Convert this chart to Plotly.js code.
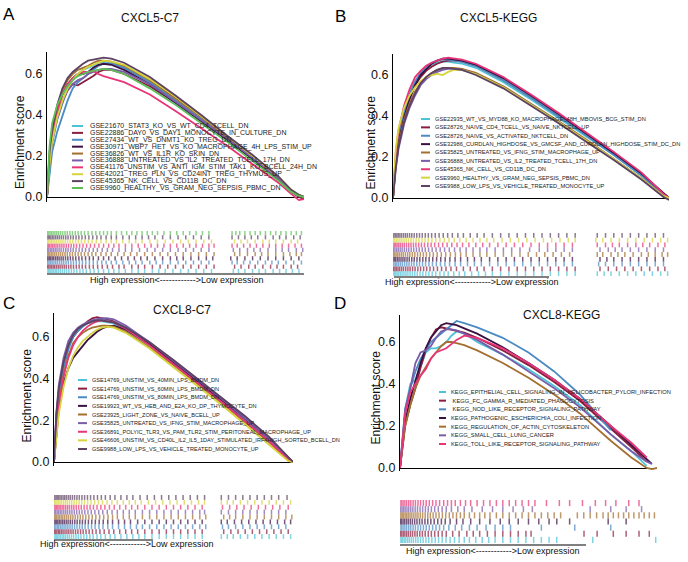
<!DOCTYPE html>
<html><head><meta charset="utf-8">
<script src="https://cdn.plot.ly/plotly-3.0.1.min.js"></script>
<style>html,body{margin:0;padding:0;background:#fff}#chart{width:688px;height:562px}</style>
</head><body><div id="chart"></div>
<script>
// ---------- DATA ----------
const CY='#4EC3D8', DR='#8B1E3F', SB='#4B8BC4', DP='#3A1142', BR='#A46F2F', PU='#7A5CA8', PK='#E83577', YE='#D6D43C', MV='#5D4262', GR='#5DBF58';

const rankPct  = [0,1,2,4,6,8,10,12,14,16,18,20,22,25,30,40,50,60,70,80,90,95,98,100];
const rankPctD = [0,1,2,4,6,8,10,12,14,16,18,20,22,25,30,40,50,60,70,82,90,96,98,100];

// Panel A: CXCL5-C7
const namesA = ['GSE21670_STAT3_KO_VS_WT_CD4_TCELL_DN','GSE22886_DAY0_VS_DAY1_MONOCYTE_IN_CULTURE_DN','GSE27434_WT_VS_DNMT1_KO_TREG_DN','GSE30971_WBP7_HET_VS_KO_MACROPHAGE_4H_LPS_STIM_UP','GSE36826_WT_VS_IL1R_KO_SKIN_DN','GSE36888_UNTREATED_VS_IL2_TREATED_TCELL_17H_DN','GSE41176_UNSTIM_VS_ANTI_IGM_STIM_TAK1_KO_BCELL_24H_DN','GSE42021_TREG_PLN_VS_CD24INT_TREG_THYMUS_UP','GSE45365_NK_CELL_VS_CD11B_DC_DN','GSE9960_HEALTHY_VS_GRAM_NEG_SEPSIS_PBMC_DN'];
const colorsA = [CY,DR,SB,DP,BR,PU,PK,YE,MV,GR];
const esA = [
 [0,0.15,0.26,0.38,0.46,0.53,0.57,0.60,0.62,0.63,0.64,0.655,0.66,0.655,0.635,0.565,0.475,0.385,0.29,0.195,0.095,0.035,0.012,0],
 [0,0.18,0.28,0.40,0.47,0.52,0.55,0.545,0.56,0.575,0.59,0.61,0.62,0.62,0.60,0.54,0.46,0.37,0.28,0.185,0.09,0.025,0.0,-0.01],
 [0,0.12,0.22,0.32,0.40,0.47,0.53,0.56,0.58,0.60,0.62,0.64,0.65,0.65,0.63,0.56,0.47,0.38,0.285,0.19,0.09,0.03,0.008,0],
 [0,0.20,0.30,0.42,0.50,0.55,0.58,0.60,0.60,0.61,0.63,0.645,0.65,0.645,0.62,0.55,0.46,0.37,0.28,0.185,0.085,0.028,0.005,0],
 [0,0.20,0.30,0.43,0.52,0.57,0.60,0.62,0.63,0.64,0.655,0.665,0.665,0.66,0.64,0.57,0.48,0.39,0.29,0.195,0.095,0.032,0.01,0],
 [0,0.17,0.27,0.38,0.46,0.52,0.55,0.57,0.58,0.60,0.61,0.62,0.625,0.625,0.61,0.55,0.465,0.375,0.285,0.19,0.09,0.03,0.008,0],
 [0,0.18,0.29,0.42,0.50,0.55,0.58,0.60,0.61,0.61,0.615,0.60,0.59,0.58,0.56,0.50,0.42,0.335,0.25,0.16,0.07,0.015,-0.015,-0.01],
 [0,0.16,0.27,0.39,0.47,0.53,0.57,0.60,0.62,0.635,0.645,0.655,0.665,0.66,0.645,0.575,0.49,0.395,0.30,0.20,0.10,0.035,0.01,0],
 [0,0.22,0.33,0.45,0.53,0.58,0.61,0.63,0.65,0.665,0.67,0.675,0.68,0.675,0.655,0.585,0.495,0.40,0.30,0.205,0.10,0.035,0.01,0],
 [0,0.25,0.36,0.45,0.50,0.54,0.57,0.59,0.60,0.61,0.615,0.62,0.625,0.62,0.60,0.53,0.45,0.36,0.27,0.175,0.08,0.025,0.005,0]
];
const rugA = [
 [0,0.5,1,1.5,2,2.6,3.2,3.8,4.5,5.2,6,6.8,7.6,8.5,9.5,10.5,11.6,12.8,14,15.3,16.8,18.3,20,22,24,26,28,30.5,33,35.5,38,41,43.5,46,49,52,55,58,61,64,72.5,74.5,77,80,82.5,85,88,90.5,93,95.5,98],
 [0.2,0.7,1.2,1.8,2.4,3,3.7,4.4,5.1,5.9,6.7,7.5,8.4,9.3,10.3,11.4,12.5,13.7,15,16.5,18,19.7,21.5,23.5,25.5,28,30,33,35.5,38,41,44,47,50,53,56,59,62,65,73,75.5,78.5,81,84,87,89.5,92,95,97.5],
 [0.3,0.8,1.4,2,2.7,3.4,4.1,4.9,5.7,6.5,7.4,8.3,9.3,10.3,11.4,12.6,13.8,15.1,16.5,18,19.6,21.3,23,25,27,29.5,32,34.5,37,40,42.5,45,48,51,54,57,60,63,72,74,76.5,79,82,85,87.5,90,93,96,99],
 [0,0.4,0.9,1.4,2,2.6,3.3,4,4.7,5.5,6.3,7.2,8.1,9.1,10.1,11.2,12.4,13.6,15,16.5,18,20,22,24,26.5,29,31.5,34,36.5,39,42,45,48,50.5,53,56,59,62,64.5,71.5,74,77,80,83,86,89,92,95,98],
 [0.1,0.6,1.1,1.7,2.3,3,3.7,4.5,5.3,6.1,7,7.9,8.9,9.9,11,12.1,13.3,14.6,16,17.5,19,21,23,25,27.5,30,32.5,35,38,41,44,47,50,53,56,59,62,65,73,75,78,81,83.5,86,89,92,94.5,97,99],
 [0.2,0.7,1.3,1.9,2.5,3.2,3.9,4.7,5.5,6.4,7.3,8.2,9.2,10.2,11.3,12.5,13.7,15,16.4,18,19.6,21.5,23.5,25.5,28,30.5,33,36,39,42,45,48,51,54,57,60,63,72.5,75,78,80.5,83,86,89,91.5,94,97,99.5],
 [0,0.5,1,1.6,2.2,2.8,3.5,4.2,5,5.8,6.6,7.5,8.4,9.4,10.4,11.5,12.7,14,15.4,16.9,18.5,20.2,22,24,26,28,30.5,33,35.5,38,40.5,43,45.5,48,50.5,53,55.5,58,60.5,63,65,72,74,76.5,79,81.5,84,86.5,89,91.5,94,96.5,99],
 [0.1,0.6,1.2,1.8,2.4,3.1,3.8,4.6,5.4,6.2,7.1,8,9,10,11.1,12.2,13.4,14.7,16.1,17.6,19.2,21,23,25,27,29.5,32,34.5,37,40,43,46,49,52,55,58,61,64,73,75.5,78,81,84,86.5,89,92,95,97.5],
 [0,0.5,1,1.5,2.1,2.7,3.4,4.1,4.8,5.6,6.4,7.3,8.2,9.2,10.2,11.3,12.4,13.6,14.9,16.3,17.8,19.4,21,23,25,27,29.5,32,34.5,37,39.5,42,45,48,51,54,57,60,63,72,74.5,77,79.5,82,85,88,90.5,93,96,98.5],
 [0.2,0.7,1.2,1.8,2.4,3.1,3.8,4.5,5.3,6.1,7,7.9,8.9,9.9,11,12.1,13.3,14.6,16,17.5,19,20.5,22,23.5,25,27,29,31,33,35,37,39,41,43,45.5,48,50.5,53,55.5,58,60.5,63,72,73.5,75,77,79,81,83,85,87,89,91,93,95,97,99]
];

// Panel B: CXCL5-KEGG
const namesB = ['GSE22935_WT_VS_MYD88_KO_MACROPHAGE_48H_MBOVIS_BCG_STIM_DN','GSE28726_NAIVE_CD4_TCELL_VS_NAIVE_NKTCELL_UP','GSE28726_NAIVE_VS_ACTIVATED_NKTCELL_DN','GSE32986_CURDLAN_HIGHDOSE_VS_GMCSF_AND_CURDLAN_HIGHDOSE_STIM_DC_DN','GSE35825_UNTREATED_VS_IFNG_STIM_MACROPHAGE_UP','GSE36888_UNTREATED_VS_IL2_TREATED_TCELL_17H_DN','GSE45365_NK_CELL_VS_CD11B_DC_DN','GSE9960_HEALTHY_VS_GRAM_NEG_SEPSIS_PBMC_DN','GSE9988_LOW_LPS_VS_VEHICLE_TREATED_MONOCYTE_UP'];
const colorsB = [CY,DR,SB,DP,BR,PU,PK,YE,MV];
const esB = [
 [0,0.20,0.30,0.42,0.50,0.56,0.60,0.63,0.65,0.66,0.665,0.665,0.66,0.655,0.635,0.565,0.48,0.39,0.30,0.21,0.11,0.05,0.02,0],
 [0,0.18,0.28,0.40,0.49,0.55,0.59,0.62,0.64,0.655,0.665,0.67,0.67,0.665,0.645,0.575,0.49,0.40,0.31,0.215,0.115,0.055,0.02,0],
 [0,0.19,0.30,0.42,0.51,0.57,0.61,0.64,0.66,0.67,0.675,0.675,0.67,0.665,0.645,0.575,0.49,0.40,0.305,0.21,0.11,0.05,0.02,0],
 [0,0.17,0.27,0.39,0.48,0.55,0.60,0.63,0.655,0.67,0.68,0.68,0.675,0.67,0.65,0.585,0.50,0.41,0.315,0.22,0.12,0.06,0.02,0],
 [0,0.16,0.26,0.38,0.46,0.52,0.56,0.59,0.61,0.625,0.63,0.635,0.635,0.63,0.61,0.545,0.46,0.375,0.285,0.19,0.095,0.04,0.01,0],
 [0,0.14,0.24,0.36,0.44,0.50,0.55,0.58,0.60,0.615,0.625,0.63,0.63,0.625,0.605,0.54,0.455,0.37,0.28,0.19,0.095,0.04,0.01,0],
 [0,0.22,0.33,0.45,0.53,0.59,0.62,0.645,0.66,0.67,0.68,0.685,0.68,0.675,0.655,0.59,0.505,0.415,0.32,0.225,0.125,0.06,0.02,0],
 [0,0.24,0.34,0.44,0.50,0.54,0.57,0.59,0.60,0.605,0.60,0.615,0.625,0.625,0.605,0.54,0.455,0.37,0.28,0.19,0.095,0.04,0.01,0],
 [0,0.15,0.25,0.37,0.45,0.51,0.56,0.59,0.61,0.625,0.635,0.635,0.63,0.625,0.60,0.535,0.45,0.365,0.275,0.185,0.09,0.035,0.005,-0.01]
];
const rugB = [
 [0,0.5,1,1.5,2.1,2.7,3.3,4,4.7,5.4,6.2,7,7.9,8.8,9.8,10.8,11.9,13,14.2,15.5,17,18.5,20,22,24,26,28.5,31,33.5,36,39,42,45,48,51,54,57,60,63,66,74,76.5,79,82,85,88,91,94,97,99.5],
 [0.2,0.7,1.2,1.8,2.4,3.1,3.8,4.6,5.4,6.2,7.1,8,9,10,11.1,12.2,13.4,14.7,16.1,17.6,19.2,21,23,25.5,28,30.5,33,36,39,42,45,48,51,54,57,60,63,66,75,78,81,84,87,90,93,96,98.5],
 [0.3,0.8,1.4,2,2.7,3.4,4.2,5,5.8,6.7,7.6,8.6,9.6,10.7,11.8,13,14.3,15.7,17.2,18.8,20.5,22.5,24.5,27,29.5,32,35,38,41,44,47,50,53,56,59,62,65,74.5,77,80,83,86,89,92,95,98],
 [0,0.5,1,1.6,2.2,2.9,3.6,4.3,5.1,5.9,6.8,7.7,8.7,9.7,10.8,11.9,13.1,14.4,15.8,17.3,18.9,20.6,22.5,24.5,27,29.5,32,35,38,41,44,47,50,53,56,59,62,65,75,77.5,80,83,86,89,92,95,98],
 [0.1,0.6,1.1,1.7,2.3,3,3.7,4.5,5.3,6.1,7,7.9,8.9,9.9,11,12.1,13.3,14.6,16,17.5,19.1,20.8,22.6,24.5,26.5,29,31.5,34,37,40,43,46,49,52,55,58,61,64,74,76,79,81.5,84,87,90,92.5,95,97.5,99.5],
 [0.2,0.7,1.3,1.9,2.6,3.3,4.1,4.9,5.7,6.6,7.5,8.5,9.5,10.6,11.7,12.9,14.2,15.6,17.1,18.7,20.4,22.3,24.3,26.5,29,31.5,34,37,40,43,46,49.5,53,56,59,62,65,75,78,80.5,83,86,89,92,95,98],
 [0,0.5,1,1.5,2.1,2.7,3.4,4.1,4.9,5.7,6.5,7.4,8.3,9.3,10.3,11.4,12.6,13.8,15.1,16.5,18,19.6,21.3,23.2,25.2,27.5,30,32.5,35,38,41,44,47,50,53,56,59,62,65,74,77,79.5,82,85,88,90.5,93,96,98.5],
 [0.1,0.6,1.2,1.8,2.5,3.2,4,4.8,5.6,6.5,7.4,8.4,9.4,10.5,11.6,12.8,14.1,15.5,17,18.6,20.3,22.2,24.2,26.5,29,31.5,34,36.5,39.5,42.5,45.5,48.5,51.5,54.5,57.5,60.5,63.5,66,73.5,76,79,82,85,88,91,94,97,99.5],
 [0,0.4,0.9,1.4,1.9,2.5,3.1,3.8,4.5,5.2,6,6.8,7.7,8.6,9.6,10.6,11.7,12.8,14,15.3,16.7,18.2,19.8,21.5,23.5,25.5,28,30.5,33,36,39,42,45,48,51,54,57,60,63,66,74,77,80,83,86,89,92,95,98]
];

// Panel C: CXCL8-C7
const namesC = ['GSE14769_UNSTIM_VS_40MIN_LPS_BMDM_DN','GSE14769_UNSTIM_VS_60MIN_LPS_BMDM_DN','GSE14769_UNSTIM_VS_80MIN_LPS_BMDM_DN','GSE19923_WT_VS_HEB_AND_E2A_KO_DP_THYMOCYTE_DN','GSE23925_LIGHT_ZONE_VS_NAIVE_BCELL_UP','GSE35825_UNTREATED_VS_IFNG_STIM_MACROPHAGE_UP','GSE36891_POLYIC_TLR3_VS_PAM_TLR2_STIM_PERITONEAL_MACROPHAGE_UP','GSE46606_UNSTIM_VS_CD40L_IL2_IL5_1DAY_STIMULATED_IRF4HIGH_SORTED_BCELL_DN','GSE9988_LOW_LPS_VS_VEHICLE_TREATED_MONOCYTE_UP'];
const colorsC = [CY,DR,SB,DP,BR,PU,PK,YE,MV];
const esC = [
 [0,0.20,0.32,0.46,0.55,0.60,0.63,0.65,0.665,0.67,0.675,0.675,0.67,0.665,0.635,0.56,0.47,0.385,0.295,0.20,0.105,0.05,0.02,0],
 [0,0.22,0.34,0.48,0.56,0.60,0.63,0.655,0.675,0.69,0.695,0.69,0.685,0.675,0.645,0.565,0.475,0.385,0.295,0.20,0.10,0.045,0.015,0],
 [0,0.20,0.32,0.45,0.54,0.60,0.63,0.65,0.67,0.68,0.685,0.685,0.68,0.67,0.645,0.57,0.48,0.39,0.30,0.205,0.105,0.05,0.015,0],
 [0,0.14,0.25,0.38,0.45,0.50,0.53,0.56,0.585,0.605,0.625,0.64,0.65,0.655,0.635,0.565,0.48,0.39,0.30,0.21,0.11,0.055,0.02,0],
 [0,0.17,0.28,0.42,0.51,0.57,0.60,0.62,0.635,0.645,0.65,0.655,0.655,0.65,0.625,0.55,0.465,0.375,0.285,0.19,0.095,0.04,0.01,0],
 [0,0.24,0.37,0.50,0.58,0.62,0.645,0.66,0.67,0.68,0.685,0.69,0.69,0.685,0.655,0.575,0.485,0.395,0.305,0.21,0.11,0.05,0.015,0],
 [0,0.16,0.27,0.41,0.50,0.56,0.60,0.63,0.65,0.665,0.675,0.68,0.675,0.67,0.64,0.56,0.47,0.38,0.29,0.195,0.10,0.045,0.01,0],
 [0,0.13,0.23,0.36,0.45,0.51,0.55,0.58,0.60,0.62,0.635,0.645,0.65,0.645,0.62,0.545,0.455,0.365,0.275,0.18,0.085,0.035,0.005,0],
 [0,0.23,0.35,0.48,0.56,0.61,0.64,0.655,0.665,0.675,0.68,0.68,0.675,0.67,0.645,0.575,0.49,0.40,0.31,0.22,0.12,0.06,0.02,0]
];
const rugC = [
 [0,0.5,1,1.5,2.1,2.7,3.4,4.1,4.8,5.6,6.4,7.3,8.2,9.2,10.2,11.3,12.5,13.7,15,16.4,18,19.6,21.5,23.5,25.5,28,30.5,33,35.5,38,41,44,47,50,53,56,59,62,70,72.5,75,78,81,84,87,90,93,96,99],
 [0.2,0.7,1.2,1.8,2.4,3.1,3.8,4.6,5.4,6.2,7.1,8,9,10,11.1,12.2,13.4,14.7,16.1,17.6,19.2,21,23,25,27.5,30,32.5,35,38,41,44,47,50,53,56,59,62,71,74,77,80,83,86,89,92,95,98],
 [0.3,0.8,1.4,2,2.7,3.4,4.2,5,5.8,6.7,7.6,8.6,9.6,10.7,11.8,13,14.3,15.7,17.2,18.8,20.5,22.5,24.5,27,29.5,32,34.5,37,40,43,46,49,52,55,58,61,63.5,70.5,73,76,79,82,85,88,91,94,97],
 [0,0.5,1,1.6,2.2,2.9,3.6,4.3,5.1,5.9,6.8,7.7,8.7,9.7,10.8,11.9,13.1,14.4,15.8,17.3,18.9,20.6,22.5,24.5,27,29.5,32,35,38,41,44,47,50,53,56,59,62,70,72.5,75.5,78.5,81.5,84.5,87.5,90.5,93.5,96.5,99],
 [0.1,0.6,1.1,1.7,2.3,3,3.7,4.5,5.3,6.1,7,7.9,8.9,9.9,11,12.1,13.3,14.6,16,17.5,19.1,20.8,22.6,24.5,26.5,29,31.5,34,37,40,43,46,49,52,55,58,61,63.5,71,73.5,76,79,82,85,88,91,94,97,99.5],
 [0.2,0.7,1.3,1.9,2.6,3.3,4.1,4.9,5.7,6.6,7.5,8.5,9.5,10.6,11.7,12.9,14.2,15.6,17.1,18.7,20.4,22.3,24.3,26.5,29,31.5,34,37,40,43,46,49,52,55,58,61,63,70,73,76,79,82,85,88,91,94,97],
 [0,0.5,1,1.5,2.1,2.7,3.4,4.1,4.9,5.7,6.5,7.4,8.3,9.3,10.3,11.4,12.6,13.8,15.1,16.5,18,19.6,21.3,23.2,25.2,27.5,30,32.5,35,38,41,44,47,50,53,56,59,62,70.5,73.5,76.5,79.5,82.5,85.5,88.5,91.5,94.5,98],
 [0.1,0.6,1.2,1.8,2.5,3.2,4,4.8,5.6,6.5,7.4,8.4,9.4,10.5,11.6,12.8,14.1,15.5,17,18.6,20.3,22.2,24.2,26.5,29,31.5,34,36.5,39.5,42.5,45.5,48.5,51.5,54.5,57.5,60.5,63,70,72.5,75,78,81,84,87,90,93,96,99],
 [0,0.4,0.9,1.4,1.9,2.5,3.1,3.8,4.5,5.2,6,6.8,7.7,8.6,9.6,10.6,11.7,12.8,14,15.3,16.7,18.2,19.8,21.5,23.5,25.5,28,30.5,33,36,39,42,45,48,51,54,57,60,63,70,73,76,79,82,85,88,91,94,97.5]
];

// Panel D: CXCL8-KEGG
const namesD = ['KEGG_EPITHELIAL_CELL_SIGNALING_IN_HELICOBACTER_PYLORI_INFECTION','\u00a0KEGG_FC_GAMMA_R_MEDIATED_PHAGOCYTOSIS','\u00a0KEGG_NOD_LIKE_RECEPTOR_SIGNALING_PATHWAY','KEGG_PATHOGENIC_ESCHERICHIA_COLI_INFECTION','KEGG_REGULATION_OF_ACTIN_CYTOSKELETON','KEGG_SMALL_CELL_LUNG_CANCER','KEGG_TOLL_LIKE_RECEPTOR_SIGNALING_PATHWAY'];
const colorsD = [CY,DR,SB,DP,BR,PU,PK];
const esD = [
 [0,0.15,0.28,0.40,0.42,0.48,0.55,0.57,0.57,0.58,0.60,0.63,0.65,0.64,0.60,0.54,0.47,0.39,0.30,0.16,0.08,0.01,null,null],
 [0,0.10,0.20,0.30,0.38,0.48,0.56,0.62,0.66,0.67,0.665,0.66,0.655,0.645,0.62,0.56,0.49,0.41,0.32,0.19,0.10,0.03,null,null],
 [0,0.14,0.26,0.38,0.46,0.52,0.56,0.60,0.62,0.64,0.66,0.68,0.70,0.69,0.67,0.62,0.55,0.46,0.35,0.18,null,null,null,null],
 [0,0.12,0.22,0.33,0.42,0.50,0.57,0.62,0.65,0.68,0.69,0.685,0.68,0.665,0.64,0.575,0.50,0.42,0.33,0.20,0.11,0.04,0.02,null],
 [0,0.10,0.20,0.30,0.38,0.44,0.48,0.52,0.55,0.58,0.60,0.60,0.595,0.585,0.56,0.50,0.43,0.35,0.26,0.13,0.05,0.0,-0.005,0.0],
 [0,0.15,0.28,0.38,0.50,0.55,0.56,0.58,0.62,0.65,0.66,0.66,0.655,0.64,0.61,0.54,0.46,0.38,0.29,0.16,0.08,0.03,0.02,null],
 [0,0.12,0.26,0.36,0.40,0.44,0.47,0.52,0.55,0.56,0.57,0.59,0.61,0.63,0.62,0.57,0.50,0.42,0.33,0.20,0.12,0.05,null,null]
];
const rugD = [
 [0,0.5,1,1.6,2.2,2.9,3.6,4.4,5.2,6.1,7,8,9,10.1,11.2,12.4,13.7,15,16.4,17.9,19.5,21.2,23,25,27,29.5,32,34.5,37,40,43,46,49,52,55,58,61,75,99.5],
 [0.2,0.7,1.3,1.9,2.6,3.3,4.1,4.9,5.8,6.7,7.7,8.7,9.8,11,12.2,13.5,14.9,16.4,18,20.5,23,26,28.5,31,34,37,40,43,46,49,51,71.6,76.7,83,88,93,97],
 [0,0.6,1.2,1.9,2.6,3.4,4.2,5.1,6,7,8,9.1,10.2,11.4,12.7,14,15.4,17,19,21.5,24,27,30,33.5,37,40,43,55,68,82],
 [0.1,0.6,1.2,1.8,2.5,3.2,4,4.8,5.7,6.6,7.6,8.6,9.7,10.8,12,13.3,14.7,16.1,17.6,19.5,22,24.5,27.5,31,35,39,42.5,46,50,54,58,61,66,81,88],
 [0,0.4,0.9,1.4,2,2.6,3.2,3.9,4.6,5.4,6.2,7,7.9,8.8,9.8,10.8,11.8,12.9,14,15.2,16.5,17.8,19.2,20.6,22,23.5,25,27,29,31,33,35,37.5,40,42.5,45,47.5,50,52.5,55,57.5,60,62.5,69,71.5,74,76.5,79,81,83,85,87,89,91,93,95,97,99],
 [0.3,0.8,1.4,2,2.7,3.4,4.2,5,5.9,6.8,7.8,8.8,9.9,11,12.2,13.5,14.9,16.4,18,20,22.5,25,28,32,36,40,44,48,51.5,74,82,88,94],
 [0,0.6,1.2,1.9,2.6,3.4,4.2,5.1,6,7,8,9.1,10.2,11.4,12.7,14,15.4,17,18.5,20,21.5,23.5,25.5,27.5,30,32.5,35,37.5,40,42.5,45,47.5,50,52.5,57,62,66,71,76,80,84,89,93]
];

const panelTitles = ['CXCL5-C7','CXCL5-KEGG','CXCL8-C7','CXCL8-KEGG'];
const panelLetters = ['A','B','C','D'];
const yTickVals = [0,0.2,0.4,0.6];
const yTickText = ['0.0','0.2','0.4','0.6'];
const yTitle = 'Enrichment score';
const rugCaption = 'High expression<------------>Low expression';

// ---------- LAYOUT GEOMETRY (pixels) ----------
const W=688, H=562;
const X = p => p/W, Y = p => 1 - p/H;
const geo = [
 {px0:47, px1:304, zero:197, scale:205,   top:51.5, bot:202, rug:[231,273], rugLine:[47,304,274], cap:[177,280],
  title:[150,18], letter:[9,15], ytitle:[20,142], leg:{l0:72,l1:83,tx:88,y0:126,y1:188,fs:7.0}},
 {px0:393, px1:669, zero:198, scale:205,  top:54, bot:202, rug:[233,276], rugLine:[394,549,277], cap:[472,282],
  title:[499,18], letter:[340,16], ytitle:[370,142.5], leg:{l0:421,l1:430,tx:433,y0:119,y1:186,fs:5.7}},
 {px0:54, px1:293, zero:462, scale:208.3, top:313, bot:466, rug:[495,539], rugLine:[54,153,540], cap:[127,543.5],
  title:[182,310], letter:[9,303], ytitle:[26,395.5], leg:{l0:78,l1:87,tx:90,y0:380,y1:449,fs:5.6}},
 {px0:400, px1:657, zero:468, scale:210,  top:315, bot:471, rug:[500,543], rugLine:[400,586,545], cap:[493,551],
  title:[561,315], letter:[340,303], ytitle:[375,397.5], leg:{l0:439,l1:446,tx:449,y0:392,y1:444,fs:5.75}}
];

const panels = [
 {names:namesA, colors:colorsA, es:esA, rug:rugA, x:rankPct},
 {names:namesB, colors:colorsB, es:esB, rug:rugB, x:rankPct},
 {names:namesC, colors:colorsC, es:esC, rug:rugC, x:rankPct},
 {names:namesD, colors:colorsD, es:esD, rug:rugD, x:rankPctD}
];

const FONT = 'Liberation Sans, Arial, Helvetica, sans-serif';
const traces = [], annotations = [], shapes = [];
const layout = {
  width:W, height:H, margin:{l:0,r:0,t:0,b:0}, showlegend:false,
  paper_bgcolor:'#fff', plot_bgcolor:'rgba(0,0,0,0)',
  font:{family:FONT, color:'#111'}
};

panels.forEach((p, i) => {
  const g = geo[i];
  const k = i + 1, kr = i + 5;
  const n = p.names.length;
  layout['xaxis' + k] = {domain:[X(g.px0), X(g.px1)], range:[0,100], visible:false, anchor:'y'+k, fixedrange:true};
  layout['yaxis' + k] = {
    domain:[Y(g.bot), Y(g.top)], range:[(g.zero-g.bot)/g.scale, (g.zero-g.top)/g.scale],
    anchor:'x'+k, showline:true, linecolor:'#000', linewidth:1, ticks:'', showgrid:false,
    zeroline:true, zerolinecolor:'#000', zerolinewidth:1,
    tickvals:yTickVals, ticktext:yTickText, tickfont:{size:12.5, color:'#111'}, ticklabelstandoff:1,
    fixedrange:true
  };
  layout['xaxis' + kr] = {domain:[X(g.px0), X(g.px1)], range:[0,100], visible:false, anchor:'y'+kr, fixedrange:true};
  layout['yaxis' + kr] = {domain:[Y(g.rug[1]), Y(g.rug[0])], range:[-0.5, n-0.5], visible:false, anchor:'x'+kr, fixedrange:true};
  const rowH = (g.rug[1]-g.rug[0]) / n;

  p.es.forEach((ys, j) => {
    traces.push({type:'scatter', mode:'lines', name:p.names[j].trim(), x:p.x, y:ys,
      xaxis:'x'+k, yaxis:'y'+k, line:{color:p.colors[j], width:1.8}, connectgaps:false, hoverinfo:'name+y'});
  });
  p.rug.forEach((xs, j) => {
    traces.push({type:'scatter', mode:'markers', name:p.names[j].trim(), x:xs, y:xs.map(() => j),
      xaxis:'x'+kr, yaxis:'y'+kr, opacity:0.7,
      marker:{symbol:'line-ns', size:rowH/1.4, color:p.colors[j], line:{color:p.colors[j], width:1.5}}, hoverinfo:'name+x'});
  });

  const L = g.leg;
  p.names.forEach((nm, j) => {
    const yy = L.y0 + j * (L.y1 - L.y0) / (n - 1);
    shapes.push({type:'line', xref:'paper', yref:'paper', x0:X(L.l0), x1:X(L.l1), y0:Y(yy), y1:Y(yy),
      line:{color:p.colors[j], width:2}});
    annotations.push({xref:'paper', yref:'paper', x:X(L.tx), y:Y(yy), xanchor:'left', yanchor:'middle',
      text:nm, showarrow:false, font:{size:L.fs, color:'#222'}});
  });
  shapes.push({type:'line', xref:'paper', yref:'paper', x0:X(g.rugLine[0]), x1:X(g.rugLine[1]), y0:Y(g.rugLine[2]), y1:Y(g.rugLine[2]),
    line:{color:'#000', width:1}});
  annotations.push({xref:'paper', yref:'paper', x:X(g.cap[0]), y:Y(g.cap[1]), xanchor:'center', yanchor:'middle',
    text:rugCaption, showarrow:false, font:{size:9, color:'#111'}});
  annotations.push({xref:'paper', yref:'paper', x:X(g.ytitle[0]), y:Y(g.ytitle[1]), xanchor:'center', yanchor:'middle',
    text:yTitle, textangle:-90, showarrow:false, font:{size:12, color:'#111'}});
  annotations.push({xref:'paper', yref:'paper', x:X(g.title[0]), y:Y(g.title[1]), xanchor:'center', yanchor:'middle',
    text:panelTitles[i], showarrow:false, font:{size:12, color:'#111'}});
  annotations.push({xref:'paper', yref:'paper', x:X(g.letter[0]), y:Y(g.letter[1]), xanchor:'center', yanchor:'middle',
    text:panelLetters[i], showarrow:false, font:{size:17, color:'#000'}});
});

layout.annotations = annotations;
layout.shapes = shapes;
Plotly.newPlot('chart', traces, layout, {staticPlot:true, displayModeBar:false});
</script>
</body></html>
